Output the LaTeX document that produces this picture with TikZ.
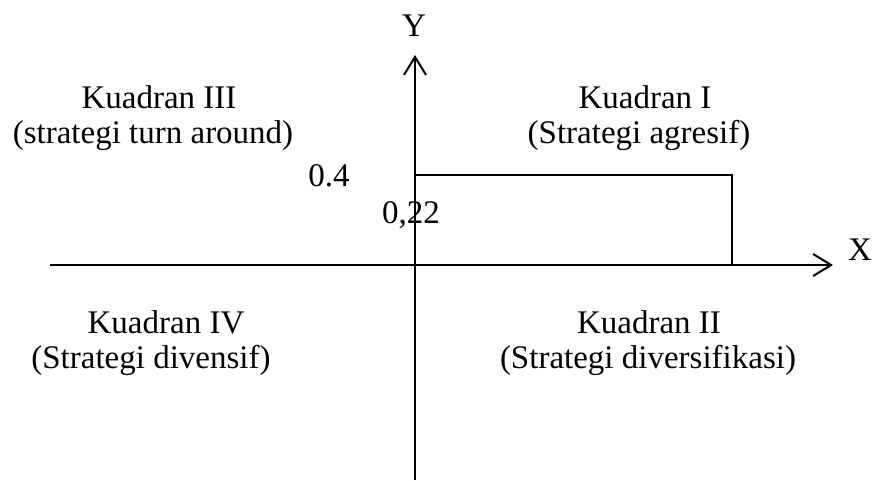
\documentclass[tikz,border=0pt]{standalone}
\usepackage{fontspec}
\setmainfont{Liberation Serif}
\usetikzlibrary{arrows.meta}
\tikzset{
  axis/.style={line width=2pt,-{Straight Barb[length=18pt,width=22pt,line width=2pt]}},
  box/.style={line width=2pt},
  lbl/.style={anchor=base,inner sep=0pt,font=\fontsize{33}{38}\selectfont}
}
\begin{document}
\begin{tikzpicture}[x=1pt,y=-1pt]
  \useasboundingbox (0,0) rectangle (872,480);
  % axes
  \coordinate (O) at (415,265);
  \coordinate (xl) at (50,265);
  \coordinate (xr) at (833,265);
  \coordinate (yb) at (415,480);
  \coordinate (yt) at (415,55);
  \draw[axis] (xl)--(xr);
  \draw[axis] (yb)--(yt);
  \node[lbl] (xlab) at (860,260){X};
  \node[lbl] (ylab) at (414,36){Y};
  % position box
  \coordinate (p) at (732,175);
  \draw[box] (O|-p)--(p)--(p|-O);
  \node[lbl] (v4) at (329,186){0.4};
  \node[lbl] (v22) at (411,223){0,22};
  % quadrants
  \node[lbl] (q3a) at (159,108){Kuadran III};
  \node[lbl] (q3b) at (153,143){(strategi turn around)};
  \node[lbl] (q1a) at (645,108){Kuadran I};
  \node[lbl] (q1b) at (639,143){(Strategi agresif)};
  \node[lbl] (q4a) at (166,333){Kuadran IV};
  \node[lbl] (q4b) at (151,368){(Strategi divensif)};
  \node[lbl] (q2a) at (649,333){Kuadran II};
  \node[lbl] (q2b) at (648,368){(Strategi diversifikasi)};
\end{tikzpicture}
\end{document}
